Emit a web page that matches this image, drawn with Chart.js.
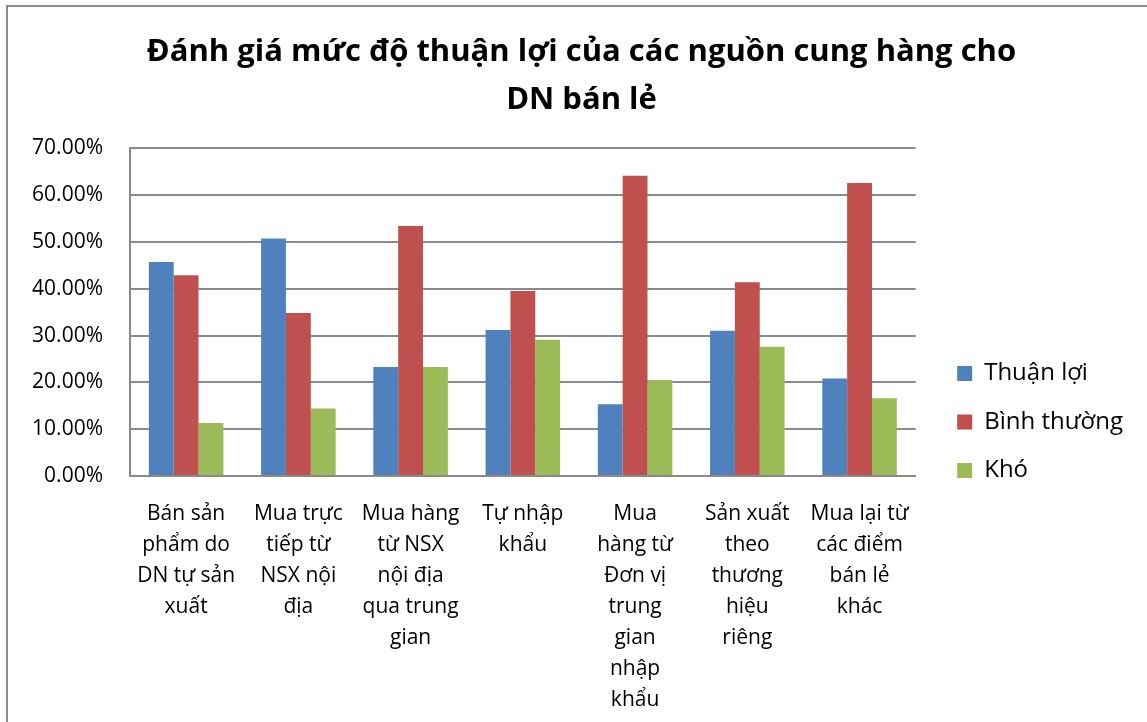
<!DOCTYPE html>
<html>
<head>
<meta charset="utf-8">
<script src="https://cdn.jsdelivr.net/npm/chart.js@4/dist/chart.umd.min.js"></script>
<style>
  html, body { margin: 0; padding: 0; background: #fff; overflow: hidden; }
  #frame {
    position: absolute; left: 6px; top: 5px;
    width: 1147px; height: 830px;
    border: 2px solid #8a8a8a;
  }
</style>
</head>
<body>
<div id="frame"><canvas id="chart"></canvas></div>
<script>
// Categories (multi-line labels as shown under the axis)
const categories = [
  ['Bán sản', 'phẩm do', 'DN tự sản', 'xuất'],
  ['Mua trực', 'tiếp từ', 'NSX nội', 'địa'],
  ['Mua hàng', 'từ NSX', 'nội địa', 'qua trung', 'gian'],
  ['Tự nhập', 'khẩu'],
  ['Mua', 'hàng từ', 'Đơn vị', 'trung', 'gian', 'nhập', 'khẩu'],
  ['Sản xuất', 'theo', 'thương', 'hiệu', 'riêng'],
  ['Mua lại từ', 'các điểm', 'bán lẻ', 'khác']
];

// Series values, in percent
const thuanLoi   = [45.7, 50.7, 23.3, 31.2, 15.3, 31.0, 20.8];
const binhThuong = [42.9, 34.8, 53.4, 39.5, 64.1, 41.4, 62.6];
const kho        = [11.3, 14.4, 23.3, 29.1, 20.5, 27.6, 16.6];

const seriesNames = ['Thuận lợi', 'Bình thường', 'Khó'];
const seriesColors = ['#4F81BD', '#C0504D', '#9BBB59'];

// Y axis: 0% .. 70%, step 10%
const yMin = 0, yMax = 70, yStep = 10;

const titleLines = ['Đánh giá mức độ thuận lợi của các nguồn cung hàng cho', 'DN bán lẻ'];

const gridColor = '#8a8a8a';

function draw() {
  const datasets = [thuanLoi, binhThuong, kho].map((values, i) => ({
    label: seriesNames[i],
    data: values,
    backgroundColor: seriesColors[i],
    borderWidth: 0,
    categoryPercentage: 0.664,
    barPercentage: 1.0
  }));

  new Chart(document.getElementById('chart'), {
    type: 'bar',
    data: { labels: categories, datasets },
    options: {
      responsive: true,
      maintainAspectRatio: false,
      animation: false,
      layout: { padding: { left: 22, right: 22, top: 0, bottom: 0 } },
      plugins: {
        title: {
          display: true,
          text: titleLines,
          color: '#000',
          font: { family: 'Open Sans', size: 31, weight: 'bold', lineHeight: 1.52 },
          padding: { top: 22, bottom: 25 }
        },
        legend: {
          display: true,
          position: 'right',
          maxWidth: 300,
          labels: {
            color: '#000',
            font: { family: 'Open Sans', size: 24 },
            boxWidth: 15,
            boxHeight: 15,
            padding: 24.5
          }
        },
        tooltip: { enabled: false }
      },
      scales: {
        x: {
          grid: { display: false, drawTicks: false },
          border: { display: true, color: gridColor, width: 2 },
          ticks: {
            color: '#000',
            font: { family: 'Open Sans', size: 21, lineHeight: 1.48 },
            padding: 22,
            maxRotation: 0,
            minRotation: 0,
            autoSkip: false
          },
          // room for the tall wrapped labels below the plot
          afterFit: s => { s.height = 361; }
        },
        y: {
          min: yMin,
          max: yMax,
          grid: { color: gridColor, lineWidth: 2, drawTicks: false },
          border: { display: true, color: gridColor, width: 2 },
          ticks: {
            stepSize: yStep,
            color: '#000',
            font: { family: 'Open Sans', size: 21 },
            padding: 27,
            callback: v => v.toFixed(2) + '%'
          },
          afterFit: s => { s.width = 100; }
        },
        // empty spacer on the right, keeps the legend away from the plot
        gap: {
          type: 'linear',
          position: 'right',
          display: true,
          grid: { display: false, drawTicks: false },
          border: { display: false },
          ticks: { display: false },
          afterFit: s => { s.width = 17; }
        }
      }
    }
  });
}

Promise.all([
  document.fonts.load('21px "Open Sans"'),
  document.fonts.load('bold 31px "Open Sans"')
]).then(draw, draw);
</script>
</body>
</html>
